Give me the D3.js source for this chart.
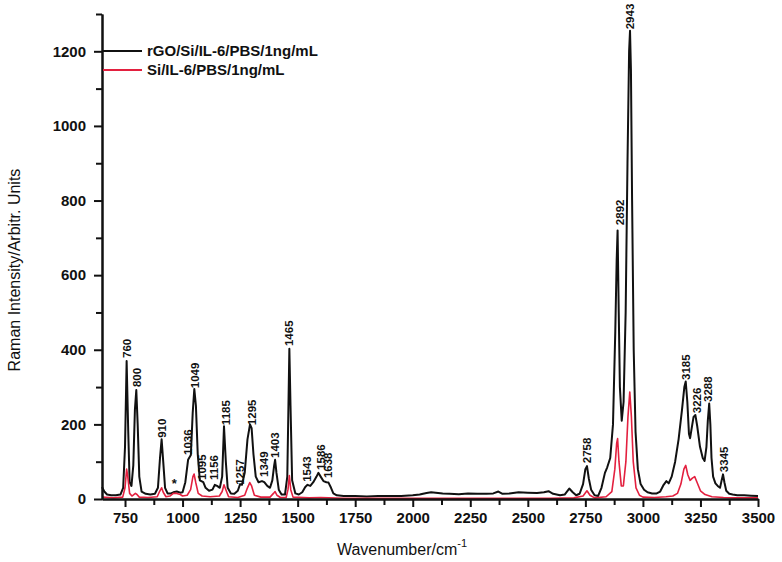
<!DOCTYPE html>
<html>
<head>
<meta charset="utf-8">
<script src="https://cdn.jsdelivr.net/npm/d3@7/dist/d3.min.js"></script>
<style>
    body { margin: 0; background: #fff; }
    svg text { font-family: "Liberation Sans", Arial, sans-serif; fill: #111; }
    .axis path, .axis line { stroke: #111; stroke-width: 2; }
    .axis text { font-size: 15px; font-weight: bold; }
    .peakLabel { font-size: 11.5px; font-weight: bold; }
</style>
</head>
<body>
<script>
(function (){

    //series names
    var seriesNames = ["rGO/Si/IL-6/PBS/1ng/mL", "Si/IL-6/PBS/1ng/mL"];

    //rGO spectrum [wavenumber, intensity]
    var rgoSpectrum = [
        [650,32],[660,20],[672,12],[690,10],[710,10],[730,12],[742,30],[750,140],[757,370],[764,180],
        [770,45],[778,35],[786,90],[793,240],[799,292],[805,200],[812,60],[822,20],[840,14],[860,12],
        [880,14],[893,30],[902,110],[909,160],[916,100],[924,30],[935,15],[950,15],[960,18],[975,20],
        [990,17],[1000,18],[1012,45],[1024,105],[1036,118],[1044,230],[1051,295],[1058,250],[1066,120],[1075,50],
        [1090,45],[1100,30],[1115,22],[1130,25],[1140,38],[1150,35],[1162,30],[1172,60],[1180,195],[1188,100],
        [1196,30],[1210,15],[1225,14],[1240,22],[1250,40],[1258,38],[1270,70],[1282,160],[1293,200],[1300,190],
        [1308,120],[1318,60],[1330,45],[1345,48],[1355,45],[1368,35],[1380,30],[1390,50],[1398,90],[1402,105],
        [1408,70],[1418,25],[1430,12],[1445,12],[1455,60],[1460,250],[1464,403],[1469,250],[1476,50],[1490,15],
        [1505,12],[1520,18],[1533,32],[1543,38],[1555,35],[1568,45],[1582,60],[1590,70],[1600,60],[1612,48],
        [1625,45],[1634,44],[1645,30],[1655,15],[1670,10],[1700,8],[1750,8],[1800,7],[1850,8],[1900,8],
        [1950,8],[2000,10],[2030,12],[2060,16],[2080,18],[2100,17],[2130,15],[2160,14],[2200,13],[2240,15],
        [2280,14],[2320,14],[2350,15],[2372,20],[2390,14],[2420,15],[2460,18],[2500,17],[2540,16],[2570,18],
        [2590,21],[2610,14],[2640,10],[2660,12],[2680,28],[2695,18],[2710,10],[2725,14],[2740,40],[2750,80],
        [2757,88],[2765,55],[2775,25],[2790,10],[2805,8],[2820,30],[2835,70],[2845,85],[2858,110],[2870,200],
        [2880,450],[2886,640],[2890,720],[2895,500],[2900,300],[2908,210],[2916,260],[2925,500],[2933,900],[2940,1200],
        [2944,1255],[2948,1150],[2953,800],[2960,400],[2968,180],[2978,80],[2990,40],[3005,25],[3020,18],[3040,15],
        [3060,15],[3075,20],[3090,38],[3102,48],[3112,42],[3125,60],[3140,100],[3155,160],[3170,240],[3180,300],
        [3186,315],[3193,260],[3200,175],[3205,163],[3212,190],[3220,220],[3228,225],[3236,195],[3248,140],[3260,110],
        [3268,102],[3276,140],[3282,210],[3288,256],[3293,200],[3298,110],[3305,60],[3315,42],[3325,35],[3335,30],
        [3342,50],[3348,66],[3354,45],[3362,22],[3375,14],[3390,12],[3410,10],[3440,10],[3470,9],[3500,8]
    ];

    //Si spectrum [wavenumber, intensity]
    var siSpectrum = [
        [650,5],[700,3],[740,5],[750,30],[757,80],[762,60],[770,15],[780,8],[795,15],[802,12],
        [812,5],[850,4],[890,6],[900,20],[909,30],[916,18],[928,6],[945,8],[960,15],[975,15],
        [990,12],[1000,8],[1020,10],[1035,25],[1045,60],[1050,67],[1057,45],[1068,15],[1085,8],[1120,6],
        [1160,8],[1172,20],[1180,38],[1188,25],[1200,6],[1240,4],[1270,10],[1282,30],[1292,44],[1300,35],
        [1312,10],[1340,5],[1380,5],[1395,15],[1402,20],[1410,10],[1425,4],[1450,4],[1458,25],[1464,63],
        [1470,25],[1480,5],[1550,3],[1600,4],[1700,2],[2000,2],[2300,2],[2600,2],[2700,3],[2740,8],
        [2757,22],[2770,10],[2790,3],[2840,6],[2865,20],[2878,80],[2886,150],[2890,162],[2896,100],[2906,35],
        [2915,35],[2926,100],[2935,220],[2943,287],[2950,220],[2958,100],[2970,30],[2985,10],[3000,5],[3050,4],
        [3100,6],[3130,8],[3150,15],[3165,40],[3178,80],[3186,90],[3195,65],[3205,50],[3215,56],[3225,60],
        [3235,45],[3250,22],[3270,12],[3300,6],[3350,4],[3400,3],[3500,3]
    ];

    //peak annotations: label, wavenumber, intensity just under the label
    var peakText = ["760","800","910","1036","1049","1095","1156","1185","1257","1295","1349","1403",
        "1465","1543","1586","1638","2758","2892","2943","3185","3226","3288","3345"];
    var peakWn = [757,801,909,1024,1054,1083,1137,1187,1249,1300,1354,1402,
        1462,1539,1601,1632,2755,2900,2944,3187,3233,3284,3352];
    var peakBase = [378,300,164,118,297,51,51,198,38,198,59,110,
        410,46,78,56,96,734,1259,319,230,260,72];

    //axis ticks
    var xMajorTicks = d3.range(750, 3501, 250);
    var xMinorTicks = d3.range(875, 3500, 250);
    var yMajorTicks = d3.range(0, 1201, 200);
    var yMinorTicks = d3.range(100, 1301, 200);

    //begin script when window loads
    window.onload = setChart();

    function setChart(){
        //frame dimensions
        var width = 782,
            height = 562,
            left = 102,
            right = 758,
            top = 14,
            bottom = 499;

        var svg = d3.select("body")
            .append("svg")
            .attr("width", width)
            .attr("height", height);

        //scales
        var x = d3.scaleLinear()
            .domain([650, 3500])
            .range([left, right]);

        var y = d3.scaleLinear()
            .domain([0, 1300])
            .range([bottom, top]);

        var line = d3.line()
            .x(function(d){ return x(d[0]); })
            .y(function(d){ return y(d[1]); });

        //spectra
        svg.append("path")
            .datum(rgoSpectrum)
            .attr("fill", "none")
            .attr("stroke", "#111")
            .attr("stroke-width", 2)
            .attr("stroke-linejoin", "round")
            .attr("d", line);

        svg.append("path")
            .datum(siSpectrum)
            .attr("fill", "none")
            .attr("stroke", "#e3203f")
            .attr("stroke-width", 1.6)
            .attr("stroke-linejoin", "round")
            .attr("d", line);

        //minor ticks first, then major axes with labels
        svg.append("g")
            .attr("class", "axis")
            .attr("transform", "translate(0," + bottom + ")")
            .call(d3.axisBottom(x).tickValues(xMinorTicks).tickSize(6).tickSizeOuter(0).tickFormat(""));

        svg.append("g")
            .attr("class", "axis")
            .attr("transform", "translate(0," + bottom + ")")
            .call(d3.axisBottom(x).tickValues(xMajorTicks).tickSize(8).tickSizeOuter(0)
                .tickPadding(5).tickFormat(d3.format("d")));

        svg.append("g")
            .attr("class", "axis")
            .attr("transform", "translate(" + left + ",0)")
            .call(d3.axisLeft(y).tickValues(yMinorTicks).tickSize(6).tickSizeOuter(0).tickFormat(""));

        svg.append("g")
            .attr("class", "axis")
            .attr("transform", "translate(" + left + ",0)")
            .call(d3.axisLeft(y).tickValues(yMajorTicks).tickSize(8).tickSizeOuter(0)
                .tickPadding(8).tickFormat(d3.format("d")));

        //peak labels
        svg.selectAll(".peakLabel")
            .data(peakText)
            .enter()
            .append("text")
            .attr("class", "peakLabel")
            .attr("transform", function(d, i){
                return "translate(" + x(peakWn[i]) + "," + y(peakBase[i]) + ") rotate(-90)";
            })
            .attr("dy", "0.35em")
            .text(function(d){ return d; });

        //asterisk near 960
        svg.append("text")
            .attr("x", x(964))
            .attr("y", y(30))
            .attr("text-anchor", "middle")
            .style("font-size", "13px")
            .style("font-weight", "bold")
            .text("*");

        //legend
        var legendColors = ["#111", "#e3203f"];
        var legend = svg.selectAll(".legend")
            .data(seriesNames)
            .enter()
            .append("g")
            .attr("class", "legend")
            .attr("transform", function(d, i){
                return "translate(" + left + "," + (51 + i * 19) + ")";
            });

        legend.append("line")
            .attr("x1", 1)
            .attr("x2", 40)
            .attr("stroke", function(d, i){ return legendColors[i]; })
            .attr("stroke-width", 2);

        legend.append("text")
            .attr("x", 45)
            .attr("dy", "0.35em")
            .style("font-size", "15px")
            .style("font-weight", "bold")
            .text(function(d){ return d; });

        //axis titles
        svg.append("text")
            .attr("transform", "translate(20,270) rotate(-90)")
            .attr("text-anchor", "middle")
            .style("font-size", "16px")
            .text("Raman Intensity/Arbitr. Units");

        var xTitle = svg.append("text")
            .attr("x", 402)
            .attr("y", 555)
            .attr("text-anchor", "middle")
            .style("font-size", "16px");
        xTitle.append("tspan").text("Wavenumber/cm");
        xTitle.append("tspan")
            .attr("dy", "-8")
            .style("font-size", "11px")
            .text("-1");
    };

})();
</script>
</body>
</html>
